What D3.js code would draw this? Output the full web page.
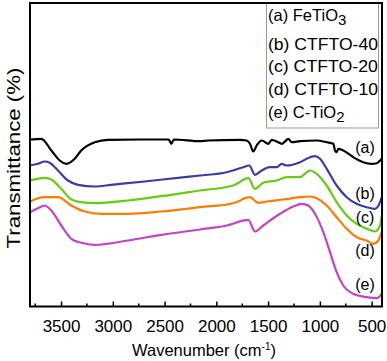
<!DOCTYPE html>
<html>
<head>
<meta charset="utf-8">
<script src="https://cdn.jsdelivr.net/npm/d3@7"></script>
<style>
  html, body { margin: 0; padding: 0; background: #fff; }
  svg { display: block; font-family: "Liberation Sans", Arial, sans-serif; }
</style>
</head>
<body>
<svg id="chart" width="387" height="361"></svg>
<script>
// ---- data (transmittance in arbitrary units, curves offset for display) ----
const xTicks = [3500, 3000, 2500, 2000, 1500, 1000, 500];
const seriesLabels = ["(a)", "(b)", "(c)", "(d)", "(e)"];
const legendNames = ["FeTiO", "CTFTO-40", "CTFTO-20", "CTFTO-10", "C-TiO"];
const legendSubs = ["3", "", "", "", "2"];
const seriesColors = ["#000000", "#3b3ca6", "#66cc11", "#ff7a00", "#c642c6"];

const waveA = [3800, 3691, 3594, 3513, 3449, 3368, 3305, 3175, 3047, 2738, 2460, 2435, 2410, 2158, 2081, 1772, 1707, 1675, 1643, 1610, 1562, 1498, 1465, 1402, 1369, 1327, 1305, 1272, 1192, 1031, 934, 870, 854, 838, 822, 774, 677, 581, 500, 451, 403];
const transA = [167, 167.7, 156, 146, 142.7, 147.7, 156, 164.3, 166.7, 167, 167, 162.7, 167, 165.3, 166, 166.7, 166, 162.7, 155, 161, 166, 162.7, 166.7, 164.3, 162.7, 166, 167.7, 164.3, 165.3, 166, 164.3, 162.7, 156, 154.3, 157.7, 156, 149.3, 144.3, 142.7, 143.3, 147.7];

const waveB = [3800, 3723, 3658, 3610, 3530, 3433, 3336, 3175, 3015, 2692, 2370, 2158, 1900, 1740, 1682, 1627, 1562, 1482, 1417, 1369, 1320, 1192, 1095, 1047, 999, 934, 838, 741, 644, 548, 468, 419, 403];
const transB = [141, 142.7, 145, 143.7, 136, 126, 121.7, 120, 121.7, 125, 128.7, 131, 134.3, 139.3, 141, 131.7, 136, 139.3, 139.3, 142.7, 141, 144.3, 149.3, 150.3, 147.7, 137.7, 121, 109.3, 102.7, 99.3, 97.7, 104.3, 109.3];

const waveC = [3800, 3658, 3594, 3498, 3401, 3305, 3175, 2853, 2532, 2158, 1836, 1691, 1627, 1547, 1417, 1320, 1192, 1127, 1095, 1031, 934, 838, 741, 644, 548, 468, 419, 403];
const transC = [126, 128.7, 127, 117.7, 107, 104.3, 103.3, 106, 110.3, 116, 121, 128.3, 117.7, 123.7, 126, 129.3, 129.3, 134.3, 136, 132.7, 121, 104.3, 91, 82.7, 77.7, 75, 81, 91];

const waveD = [3800, 3658, 3530, 3401, 3272, 3111, 2853, 2532, 2158, 1836, 1675, 1595, 1514, 1353, 1192, 1095, 1031, 934, 838, 741, 644, 548, 484, 436, 403];
const transD = [105, 109.3, 109.3, 101, 95, 92.7, 92.7, 95, 99.3, 103.3, 109.3, 103.7, 105, 107, 109.3, 110, 108.3, 101, 89.3, 77.7, 69.3, 66, 62.7, 66, 74.3];

const waveE = [3800, 3723, 3658, 3594, 3498, 3401, 3305, 3175, 2853, 2532, 2158, 1900, 1691, 1627, 1547, 1385, 1257, 1176, 1112, 1047, 967, 902, 838, 774, 677, 548, 451, 403];
const transE = [94.3, 98.3, 101, 96, 81, 67.7, 63.7, 61.7, 66, 71.7, 77, 81, 86.7, 75, 81, 92.7, 100, 102.7, 101, 92.7, 74.3, 54.3, 34.3, 21, 12.7, 9.3, 8.3, 12.7];

const allWaves = [waveA, waveB, waveC, waveD, waveE];
const allTrans = [transA, transB, transC, transD, transE];

// ---- layout ----
const svg = d3.select("#chart");
const mLeft = 30, mRight = 382, mTop = 3, mBottom = 306.5;

const x = d3.scaleLinear().domain([3800, 400]).range([mLeft, mRight]);
const y = d3.scaleLinear().domain([0, 303.5]).range([mBottom, mTop]);

// curves
const line = d3.line()
  .x(d => x(d[0]))
  .y(d => y(d[1]))
  .curve(d3.curveMonotoneX);

const plot = svg.append("g");
allWaves.forEach((w, i) => {
  const pts = w.map((v, j) => [v, allTrans[i][j]]);
  plot.append("path")
    .attr("d", line(pts))
    .attr("fill", "none")
    .attr("stroke", seriesColors[i])
    .attr("stroke-width", 2.2)
    .attr("stroke-linejoin", "round");
});

// curve labels
const labelX = [365, 365, 365, 365, 365];
const labelBase = [152.5, 199, 223, 255.5, 290];
seriesLabels.forEach((t, i) => {
  svg.append("text")
    .attr("x", labelX[i])
    .attr("y", labelBase[i])
    .attr("text-anchor", "middle")
    .attr("font-size", 16)
    .attr("fill", "#000")
    .text(t);
});

// legend box
const lg = svg.append("g");
lg.append("rect")
  .attr("x", 266.5).attr("y", 3).attr("width", 112).attr("height", 125)
  .attr("fill", "#fff").attr("stroke", "#9a9a9a").attr("stroke-width", 1);
const legendBase = [20.5, 49.5, 71.5, 94.5, 118];
legendNames.forEach((n, i) => {
  const t = lg.append("text")
    .attr("x", 268).attr("y", legendBase[i])
    .attr("font-size", 16.5).attr("fill", "#000");
  if (!legendSubs[i]) {
    t.attr("textLength", 110).attr("lengthAdjust", "spacingAndGlyphs");
  }
  t.append("tspan").text(seriesLabels[i] + " " + n);
  if (legendSubs[i]) {
    t.append("tspan").attr("dy", 4).attr("font-size", 15).text(legendSubs[i]);
  }
});

// frame
svg.append("rect")
  .attr("x", mLeft).attr("y", mTop)
  .attr("width", mRight - mLeft).attr("height", mBottom - mTop)
  .attr("fill", "none").attr("stroke", "#000").attr("stroke-width", 2);

// x axis ticks (inward)
const xAxis = d3.axisBottom(x).tickValues(xTicks).tickSize(-5).tickPadding(8).tickFormat(d3.format("d"));
const gx = svg.append("g").attr("transform", `translate(0,${mBottom})`).call(xAxis);
gx.select(".domain").remove();
gx.selectAll(".tick line").attr("stroke", "#000").attr("stroke-width", 1.5);
gx.selectAll(".tick text").attr("font-size", 17).attr("fill", "#000")
  .attr("font-family", "'Liberation Sans', Arial, sans-serif")
  .attr("y", 13);

const minorTicks = d3.range(3750, 400, -500);
svg.append("g").selectAll("line").data(minorTicks).join("line")
  .attr("x1", d => x(d)).attr("x2", d => x(d))
  .attr("y1", mBottom).attr("y2", mBottom - 3)
  .attr("stroke", "#000").attr("stroke-width", 1.5);

// axis titles
const xt = svg.append("text")
  .attr("x", 204).attr("y", 355.5)
  .attr("text-anchor", "middle").attr("font-size", 16.5).attr("fill", "#000");
xt.append("tspan").text("Wavenumber (cm");
xt.append("tspan").attr("dy", -6).attr("font-size", 10).text("-1");
xt.append("tspan").attr("dy", 6).text(")");

svg.append("text")
  .attr("transform", "translate(20,158) rotate(-90)")
  .attr("text-anchor", "middle").attr("font-size", 18).attr("fill", "#000")
  .attr("textLength", 181).attr("lengthAdjust", "spacingAndGlyphs")
  .text("Transmittance (%)");
</script>
</body>
</html>
